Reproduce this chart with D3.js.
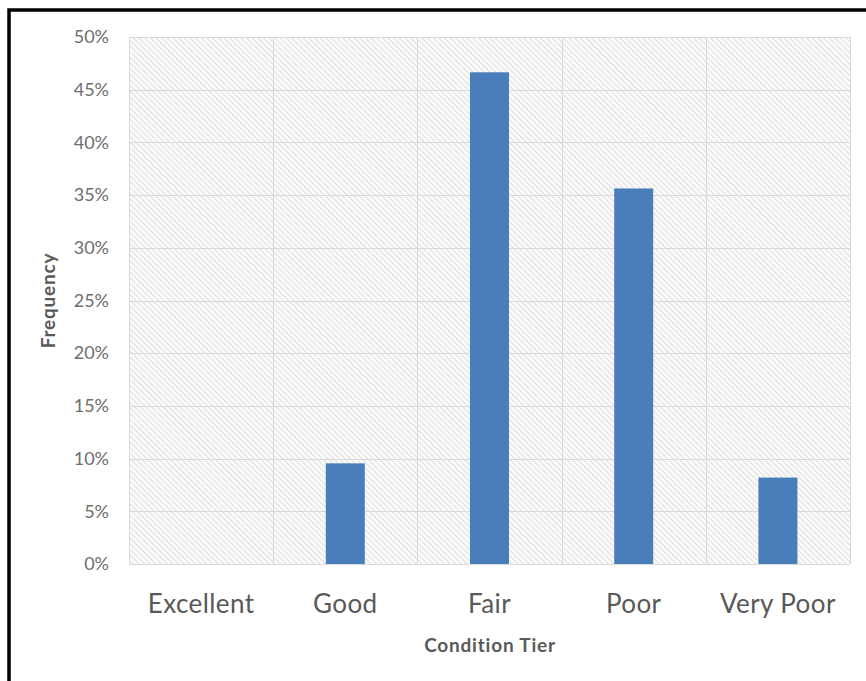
<!DOCTYPE html>
<html>
<head>
<meta charset="utf-8">
<script src="https://cdn.jsdelivr.net/npm/d3@7"></script>
<style>
  html, body { margin: 0; padding: 0; background: #fff; }
  svg { display: block; }
</style>
</head>
<body>
<svg id="chart" width="866" height="681"></svg>
<script>
// Share of assets in each condition tier
const categories = ["Excellent", "Good", "Fair", "Poor", "Very Poor"];
const frequency = [0, 0.0955, 0.4665, 0.3563, 0.082];
const yTicks = [0, 0.05, 0.10, 0.15, 0.20, 0.25, 0.30, 0.35, 0.40, 0.45, 0.50];

const FONT = "Lato, 'Open Sans', 'Liberation Sans', sans-serif";
const svg = d3.select("#chart");
const W = 866, H = 681;
const plot = { left: 129, top: 37, right: 850, bottom: 564 };

// outer frame (top and left edges visible)
svg.append("rect").attr("x", 0).attr("y", 0).attr("width", W).attr("height", H).attr("fill", "#fff");
svg.append("path")
  .attr("d", `M9,${H} L9,10 L${W},10`)
  .attr("fill", "none").attr("stroke", "#000").attr("stroke-width", 3.5);

// diagonal hatch fill for the plot area
const defs = svg.append("defs");
const pat = defs.append("pattern")
  .attr("id", "hatch").attr("patternUnits", "userSpaceOnUse")
  .attr("width", 4).attr("height", 4)
  .attr("patternTransform", "rotate(45)");
pat.append("rect").attr("width", 4).attr("height", 4).attr("fill", "#fbfbfb");
pat.append("line").attr("x1", 0).attr("y1", 0).attr("x2", 4).attr("y2", 0)
  .attr("stroke", "#d6d6d6").attr("stroke-width", 1.6);

const x = d3.scaleBand().domain(categories)
  .range([plot.left, plot.right]).paddingInner(0).paddingOuter(0);
const y = d3.scaleLinear().domain([0, 0.5]).range([plot.bottom, plot.top]);

svg.append("rect")
  .attr("x", plot.left).attr("y", plot.top)
  .attr("width", plot.right - plot.left).attr("height", plot.bottom - plot.top)
  .attr("fill", "url(#hatch)");

// horizontal gridlines
svg.append("g").selectAll("line").data(yTicks).join("line")
  .attr("x1", plot.left).attr("x2", plot.right)
  .attr("y1", d => Math.round(y(d)) + 0.5).attr("y2", d => Math.round(y(d)) + 0.5)
  .attr("stroke", "#d9d9d9").attr("stroke-width", 1);

// vertical category separators
const bounds = categories.map(c => x(c)).concat([plot.right]);
svg.append("g").selectAll("line").data(bounds).join("line")
  .attr("x1", d => Math.round(d) + 0.5).attr("x2", d => Math.round(d) + 0.5)
  .attr("y1", plot.top).attr("y2", plot.bottom)
  .attr("stroke", "#d9d9d9").attr("stroke-width", 1);

// bars
const barW = 39;
svg.append("g").selectAll("rect").data(categories).join("rect")
  .attr("x", c => x(c) + x.bandwidth() / 2 - barW / 2)
  .attr("y", (c, i) => y(frequency[i]))
  .attr("width", barW)
  .attr("height", (c, i) => y(0) - y(frequency[i]))
  .attr("fill", "#4a7ebb");

// y axis labels
const yAxis = d3.axisLeft(y).tickValues(yTicks)
  .tickFormat(d3.format(".0%")).tickSize(0).tickPadding(20);
const gy = svg.append("g").attr("transform", `translate(${plot.left},0)`).call(yAxis);
gy.select(".domain").remove();
gy.selectAll("text")
  .attr("font-family", FONT)
  .attr("font-size", 18).attr("fill", "#6e6e6e");

// x axis labels
const xAxis = d3.axisBottom(x).tickSize(0).tickPadding(31);
const gx = svg.append("g").attr("transform", `translate(0,${plot.bottom})`).call(xAxis);
gx.select(".domain").remove();
gx.selectAll("text")
  .attr("font-family", FONT)
  .attr("font-size", 26).attr("letter-spacing", 0.4).attr("fill", "#595959");

// axis titles
svg.append("text")
  .attr("x", 490).attr("y", 652)
  .attr("text-anchor", "middle")
  .attr("font-family", FONT)
  .attr("font-size", 19).attr("font-weight", "bold").attr("letter-spacing", 0.8)
  .attr("fill", "#595959")
  .text("Condition Tier");
svg.append("text")
  .attr("transform", `translate(55,${(plot.top + plot.bottom) / 2}) rotate(-90)`)
  .attr("text-anchor", "middle")
  .attr("font-family", FONT)
  .attr("font-size", 19).attr("font-weight", "bold").attr("letter-spacing", 0.8)
  .attr("fill", "#595959")
  .text("Frequency");
</script>
</body>
</html>
